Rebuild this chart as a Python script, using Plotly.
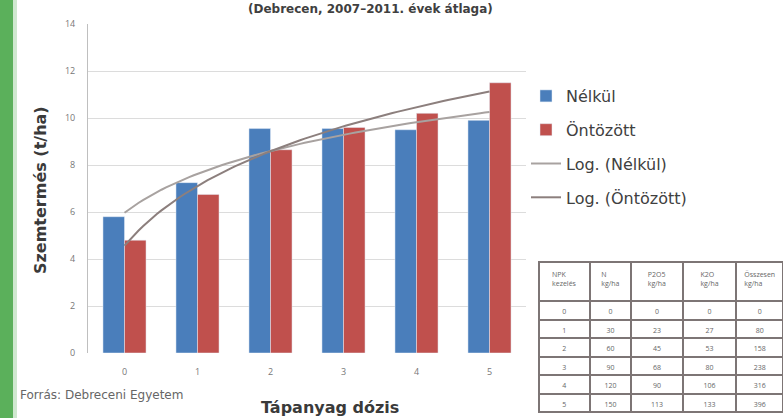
import numpy as np
import plotly.graph_objects as go

W, H = 783, 418

# Tápanyag dózis kategóriák és termésátlagok (t/ha)
doses = ["0", "1", "2", "3", "4", "5"]
nelkul = [5.8, 7.25, 9.55, 9.55, 9.5, 9.9]
ontozott = [4.8, 6.75, 8.65, 9.6, 10.2, 11.5]
y_ticks = [0, 2, 4, 6, 8, 10, 12, 14]

# NPK kezelések táblázata
tbl_header = ["NPK<br>kezelés", "N<br>kg/ha", "P2O5<br>kg/ha", "K2O<br>kg/ha", "Összesen<br>kg/ha"]
tbl_kezeles = ["0", "1", "2", "3", "4", "5"]
tbl_n = ["0", "30", "60", "90", "120", "150"]
tbl_p = ["0", "23", "45", "68", "90", "113"]
tbl_k = ["0", "27", "53", "80", "106", "133"]
tbl_sum = ["0", "80", "158", "238", "316", "396"]

BLUE = "#4a7ebb"
RED = "#c0504d"
TREND_N = "#a8a2a0"
TREND_O = "#8c7f7d"
WIDE = "DejaVu Sans, Liberation Sans, sans-serif"


def px_x(p):
    return p / W


def px_y(p):
    return 1 - p / H


xpos = np.arange(len(doses))


def log_fit(vals):
    # Excel-style logarithmic trendline: y = a*ln(x) + b, x = 1..n
    xs = np.arange(1, len(vals) + 1)
    a, b = np.polyfit(np.log(xs), np.array(vals), 1)
    xx = np.linspace(1, len(vals), 80)
    return xx - 1, a * np.log(xx) + b


fig = go.Figure()

fig.add_trace(go.Bar(x=xpos, y=nelkul, name="Nélkül", marker_color=BLUE,
                     legendgroup="a"))
fig.add_trace(go.Bar(x=xpos, y=ontozott, name="Öntözött", marker_color=RED,
                     legendgroup="b"))

tx, ty = log_fit(nelkul)
fig.add_trace(go.Scatter(x=tx, y=ty, mode="lines", name="Log. (Nélkül)",
                         line=dict(color=TREND_N, width=2), legendgroup="c"))
tx, ty = log_fit(ontozott)
fig.add_trace(go.Scatter(x=tx, y=ty, mode="lines", name="Log. (Öntözött)",
                         line=dict(color=TREND_O, width=2), legendgroup="d"))

fig.add_trace(go.Table(
    domain=dict(x=[px_x(539), 1], y=[px_y(415), px_y(262)]),
    columnwidth=[50, 41, 51, 53, 46],
    header=dict(values=tbl_header, height=39, align="center",
                fill_color="white", line=dict(color="#7d7575", width=2),
                font=dict(size=7, color="#666")),
    cells=dict(values=[tbl_kezeles, tbl_n, tbl_p, tbl_k, tbl_sum], height=18.5,
               align="center", fill_color="white",
               line=dict(color="#7d7575", width=2),
               font=dict(size=7, color="#666")),
))

fig.update_layout(
    width=W, height=H,
    margin=dict(l=0, r=0, t=0, b=0),
    paper_bgcolor="white", plot_bgcolor="white",
    barmode="group", bargap=0.41, bargroupgap=0.0,
    font=dict(family="Open Sans, Liberation Sans, sans-serif", color="#404040"),
    xaxis=dict(domain=[px_x(88), px_x(526)], range=[-0.5, 5.5],
               tickvals=list(xpos), ticktext=doses, showgrid=False,
               zeroline=False, showline=False, ticks="",
               ticklabelstandoff=12,
               tickfont=dict(size=9, color="#777"), automargin=False),
    yaxis=dict(domain=[px_y(353), px_y(24)], range=[0, 14], tickvals=y_ticks,
               showgrid=True, gridcolor="#dcdcdc", gridwidth=1,
               zeroline=False, showline=True, linecolor="#bfbfbf",
               ticks="", ticklabelstandoff=10,
               tickfont=dict(size=9, color="#777"),
               automargin=False),
    legend=dict(x=px_x(526), y=px_y(79), xanchor="left", yanchor="top",
                font=dict(size=16, color="#404040", family=WIDE),
                tracegroupgap=10, bgcolor="rgba(0,0,0,0)", itemwidth=30),
)

# left green stripe
fig.add_shape(type="rect", xref="paper", yref="paper", x0=0, x1=px_x(13),
              y0=0, y1=1, fillcolor="#5bb05b", line_width=0, layer="above")
fig.add_shape(type="rect", xref="paper", yref="paper", x0=px_x(13), x1=px_x(17),
              y0=0, y1=1, fillcolor="#cfe8cf", line_width=0, layer="above")

# titles and notes
fig.add_annotation(text="<b>(Debrecen, 2007–2011. évek átlaga)</b>",
                   xref="paper", yref="paper", x=px_x(370), y=1,
                   xanchor="center", yanchor="top", showarrow=False,
                   font=dict(size=12, color="#404040", family=WIDE))
fig.add_annotation(text="<b>Szemtermés (t/ha)</b>", textangle=-90,
                   xref="paper", yref="paper", x=px_x(40), y=px_y(190),
                   xanchor="center", yanchor="middle", showarrow=False,
                   font=dict(size=16, color="#3a3a3a", family=WIDE))
fig.add_annotation(text="<b>Tápanyag dózis</b>",
                   xref="paper", yref="paper", x=px_x(330), y=px_y(407),
                   xanchor="center", yanchor="middle", showarrow=False,
                   font=dict(size=16, color="#3a3a3a", family=WIDE))
fig.add_annotation(text="Forrás: Debreceni Egyetem",
                   xref="paper", yref="paper", x=px_x(18), y=px_y(395),
                   xanchor="left", yanchor="middle", showarrow=False,
                   font=dict(size=12, color="#666", family=WIDE))

fig.write_html("out.html")
